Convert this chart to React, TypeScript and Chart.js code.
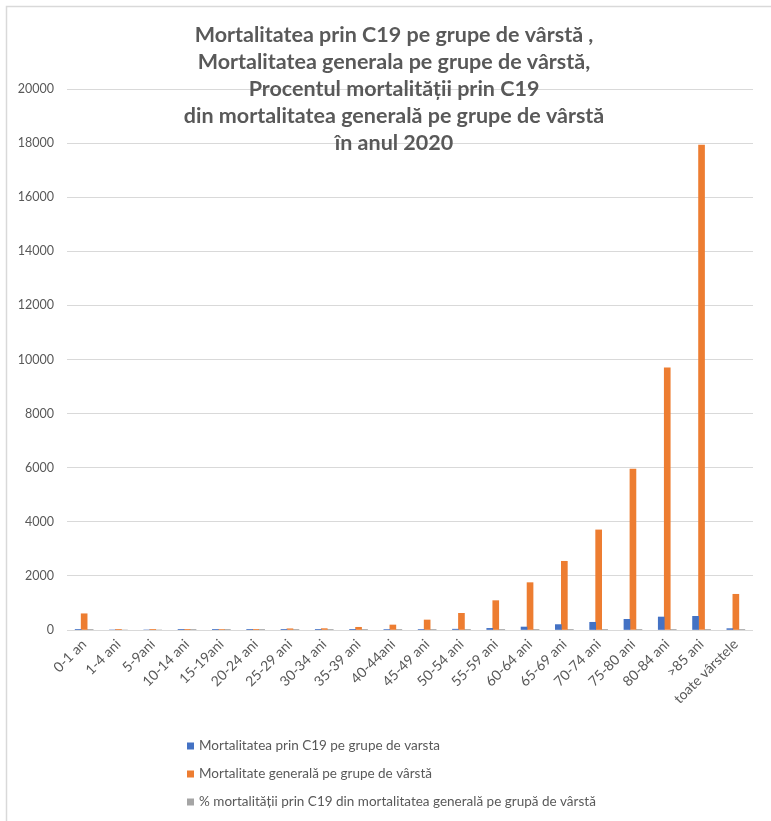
import React, { useEffect, useRef } from "react";
import { Chart, registerables } from "chart.js";

Chart.register(...registerables);

const categories = [
  "0-1 an", "1-4 ani", "5-9ani", "10-14 ani", "15-19ani", "20-24 ani", "25-29 ani",
  "30-34 ani", "35-39 ani", "40-44ani", "45-49 ani", "50-54 ani", "55-59 ani",
  "60-64 ani", "65-69 ani", "70-74 ani", "75-80 ani", "80-84 ani", ">85 ani", "toate vârstele",
];

const c19Deaths = [1, 0, 0, 1, 1, 2, 4, 6, 10, 16, 22, 30, 60, 110, 200, 285, 395, 480, 505, 50];
const generalDeaths = [600, 8, 5, 8, 15, 25, 45, 50, 100, 185, 370, 617, 1085, 1750, 2540, 3700, 5950, 9690, 17930, 1320];
const c19Percent = [0.2, 0, 0, 0.1, 0.1, 0.1, 0.1, 0.1, 0.1, 0.1, 0.1, 0.1, 0.1, 0.1, 0.1, 0.1, 0.1, 0.1, 0.1, 0.1];

const seriesLabels = [
  "Mortalitatea prin C19 pe grupe de varsta",
  "Mortalitate generală pe grupe de vârstă",
  "% mortalității prin C19 din mortalitatea generală pe grupă de vârstă",
];
const seriesColors = ["#4472C4", "#ED7D31", "#A5A5A5"];

const titleLines = [
  "Mortalitatea prin C19 pe grupe de vârstă ,",
  "Mortalitatea generala pe grupe de vârstă,",
  "Procentul mortalității prin C19",
  "din mortalitatea generală pe grupe de vârstă",
  "în anul 2020",
];

const yTicks = { min: 0, max: 20000, step: 2000 };

const TEXT = "#595959";
const FONT = "Lato, 'Open Sans', sans-serif";

const decorPlugin = {
  id: "decor",
  beforeDraw(chart: any) {
    const ctx = chart.ctx;
    ctx.save();
    ctx.strokeStyle = "#D9D9D9";
    ctx.lineWidth = 1.5;
    ctx.beginPath();
    ctx.moveTo(6.5, 821);
    ctx.lineTo(6.5, 6.5);
    ctx.lineTo(771, 6.5);
    ctx.stroke();
    ctx.restore();
  },
  afterDraw(chart: any) {
    const ctx = chart.ctx;
    ctx.save();
    ctx.fillStyle = TEXT;
    ctx.font = `bold 21.5px ${FONT}`;
    ctx.textAlign = "center";
    ctx.textBaseline = "middle";
    titleLines.forEach((line, i) => ctx.fillText(line, 394, 35 + i * 27));

    ctx.font = `13.5px ${FONT}`;
    ctx.textAlign = "left";
    chart.data.datasets.forEach((ds: any, i: number) => {
      const y = 746 + i * 28;
      ctx.fillStyle = ds.backgroundColor;
      ctx.fillRect(187, y - 3.5, 7, 7);
      ctx.fillStyle = TEXT;
      ctx.fillText(ds.label, 199, y);
    });
    ctx.restore();
  },
};

export default function App() {
  const ref = useRef<HTMLCanvasElement>(null);
  useEffect(() => {
    if (!ref.current) return;
    const chart = new Chart(ref.current, {
      type: "bar",
      data: {
        labels: categories,
        datasets: [c19Deaths, generalDeaths, c19Percent].map((d, i) => ({
          label: seriesLabels[i],
          data: d,
          backgroundColor: seriesColors[i],
          borderWidth: 0,
          barThickness: 6,
        })),
      },
      options: {
        responsive: false,
        animation: false,
        layout: { padding: { left: 7, right: 18, top: 89, bottom: 0 } },
        plugins: { legend: { display: false }, title: { display: false }, tooltip: { enabled: false } },
        scales: {
          x: {
            grid: { display: false, drawTicks: false },
            border: { display: false },
            ticks: {
              autoSkip: false,
              minRotation: 45,
              maxRotation: 45,
              padding: 6,
              color: TEXT,
              font: { family: FONT, size: 14 },
            },
            afterFit: (s: any) => { s.height = 191; },
          },
          y: {
            min: yTicks.min,
            max: yTicks.max,
            grid: { color: "#D9D9D9", lineWidth: 1, drawTicks: false },
            border: { display: false },
            ticks: {
              stepSize: yTicks.step,
              padding: 13,
              color: TEXT,
              font: { family: FONT, size: 12.5 },
              callback: (v: any) => String(v),
            },
            afterFit: (s: any) => { s.width = 60; },
          },
        },
      },
      plugins: [decorPlugin],
    });
    return () => chart.destroy();
  }, []);
  return (
    <div style={{ position: "absolute", left: 0, top: 0, width: 771, height: 821, background: "#fff" }}>
      <canvas ref={ref} width={771} height={821} />
    </div>
  );
}
